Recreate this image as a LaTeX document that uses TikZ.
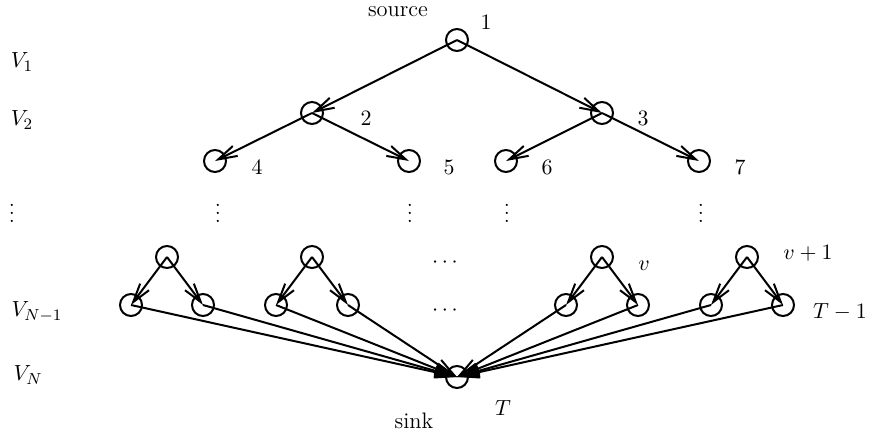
\documentclass[tikz,border=0pt]{standalone}
\usetikzlibrary{arrows.meta}
\begin{document}
\begin{tikzpicture}[x=0.5pt,y=-0.5pt,
  vtx/.style={circle,draw,line width=1pt,minimum size=11pt,inner sep=0pt},
  edge/.style={line width=1pt,-{Straight Barb[length=9.5pt,width=5.5pt,line width=1pt]}},
  lbl/.style={inner sep=0pt,font=\fontsize{11.2}{13}\selectfont},
  dots/.style={inner sep=0pt,font=\fontsize{11.2}{13}\selectfont}]
\useasboundingbox (0,0) rectangle (875,436);
% tree levels
\node[vtx] (n1) at (457,40) {};
\node[vtx] (n2) at (312,113) {};
\node[vtx] (n3) at (602,113) {};
\node[vtx] (n4) at (215,161) {};
\node[vtx] (n5) at (409,161) {};
\node[vtx] (n6) at (506,161) {};
\node[vtx] (n7) at (699,161) {};
% second to last level
\node[vtx] (a1) at (167,257) {};
\node[vtx] (a2) at (312,257) {};
\node[vtx] (a3) at (602,257) {};
\node[vtx] (a4) at (747,257) {};
% last level before the sink
\node[vtx] (b1) at (131,305) {};
\node[vtx] (b2) at (203,305) {};
\node[vtx] (b3) at (276,305) {};
\node[vtx] (b4) at (348,305) {};
\node[vtx] (b5) at (566,305) {};
\node[vtx] (b6) at (638,305) {};
\node[vtx] (b7) at (711,305) {};
\node[vtx] (b8) at (783,305) {};
\node[vtx] (t) at (457,377) {};
% edges
\draw[edge] (n1.center) -- (n2.center);
\draw[edge] (n1.center) -- (n3.center);
\draw[edge] (n2.center) -- (n4.center);
\draw[edge] (n2.center) -- (n5.center);
\draw[edge] (n3.center) -- (n6.center);
\draw[edge] (n3.center) -- (n7.center);
\draw[edge] (a1.center) -- (b1.center);
\draw[edge] (a1.center) -- (b2.center);
\draw[edge] (a2.center) -- (b3.center);
\draw[edge] (a2.center) -- (b4.center);
\draw[edge] (a3.center) -- (b5.center);
\draw[edge] (a3.center) -- (b6.center);
\draw[edge] (a4.center) -- (b7.center);
\draw[edge] (a4.center) -- (b8.center);
\foreach \b in {b1,b2,b3,b4,b5,b6,b7,b8}
  \draw[edge] (\b.center) -- (t.center);
% vertex labels
\node[lbl] (lsrc) at (398,12) {source};
\node[lbl] (l1) at (486,22) {$1$};
\node[lbl] (l2) at (366,118) {$2$};
\node[lbl] (l3) at (643,118) {$3$};
\node[lbl] (l4) at (257,167) {$4$};
\node[lbl] (l5) at (449,167) {$5$};
\node[lbl] (l6) at (547,167) {$6$};
\node[lbl] (l7) at (740,167) {$7$};
\node[lbl] (lv) at (644,266) {$v$};
\node[lbl] (lv1) at (808,253) {$v+1$};
\node[lbl] (lT1) at (840,312) {$T-1$};
\node[lbl] (lT) at (503,408) {$T$};
\node[lbl] (lsink) at (414,421) {sink};
% level labels
\node[lbl] (V1) at (22,62) {$V_1$};
\node[lbl] (V2) at (22,120) {$V_2$};
\node[dots] (vd0) at (12,207) {$\vdots$};
\node[lbl] (VN1) at (37,312) {$V_{N-1}$};
\node[lbl] (VN) at (28,375) {$V_N$};
% omitted levels
\node[dots] (vd1) at (218,207) {$\vdots$};
\node[dots] (vd2) at (410,207) {$\vdots$};
\node[dots] (vd3) at (507,207) {$\vdots$};
\node[dots] (vd4) at (701,207) {$\vdots$};
\node[dots] (hd1) at (445,263) {$\cdots$};
\node[dots] (hd2) at (445,311) {$\cdots$};
\end{tikzpicture}
\end{document}
